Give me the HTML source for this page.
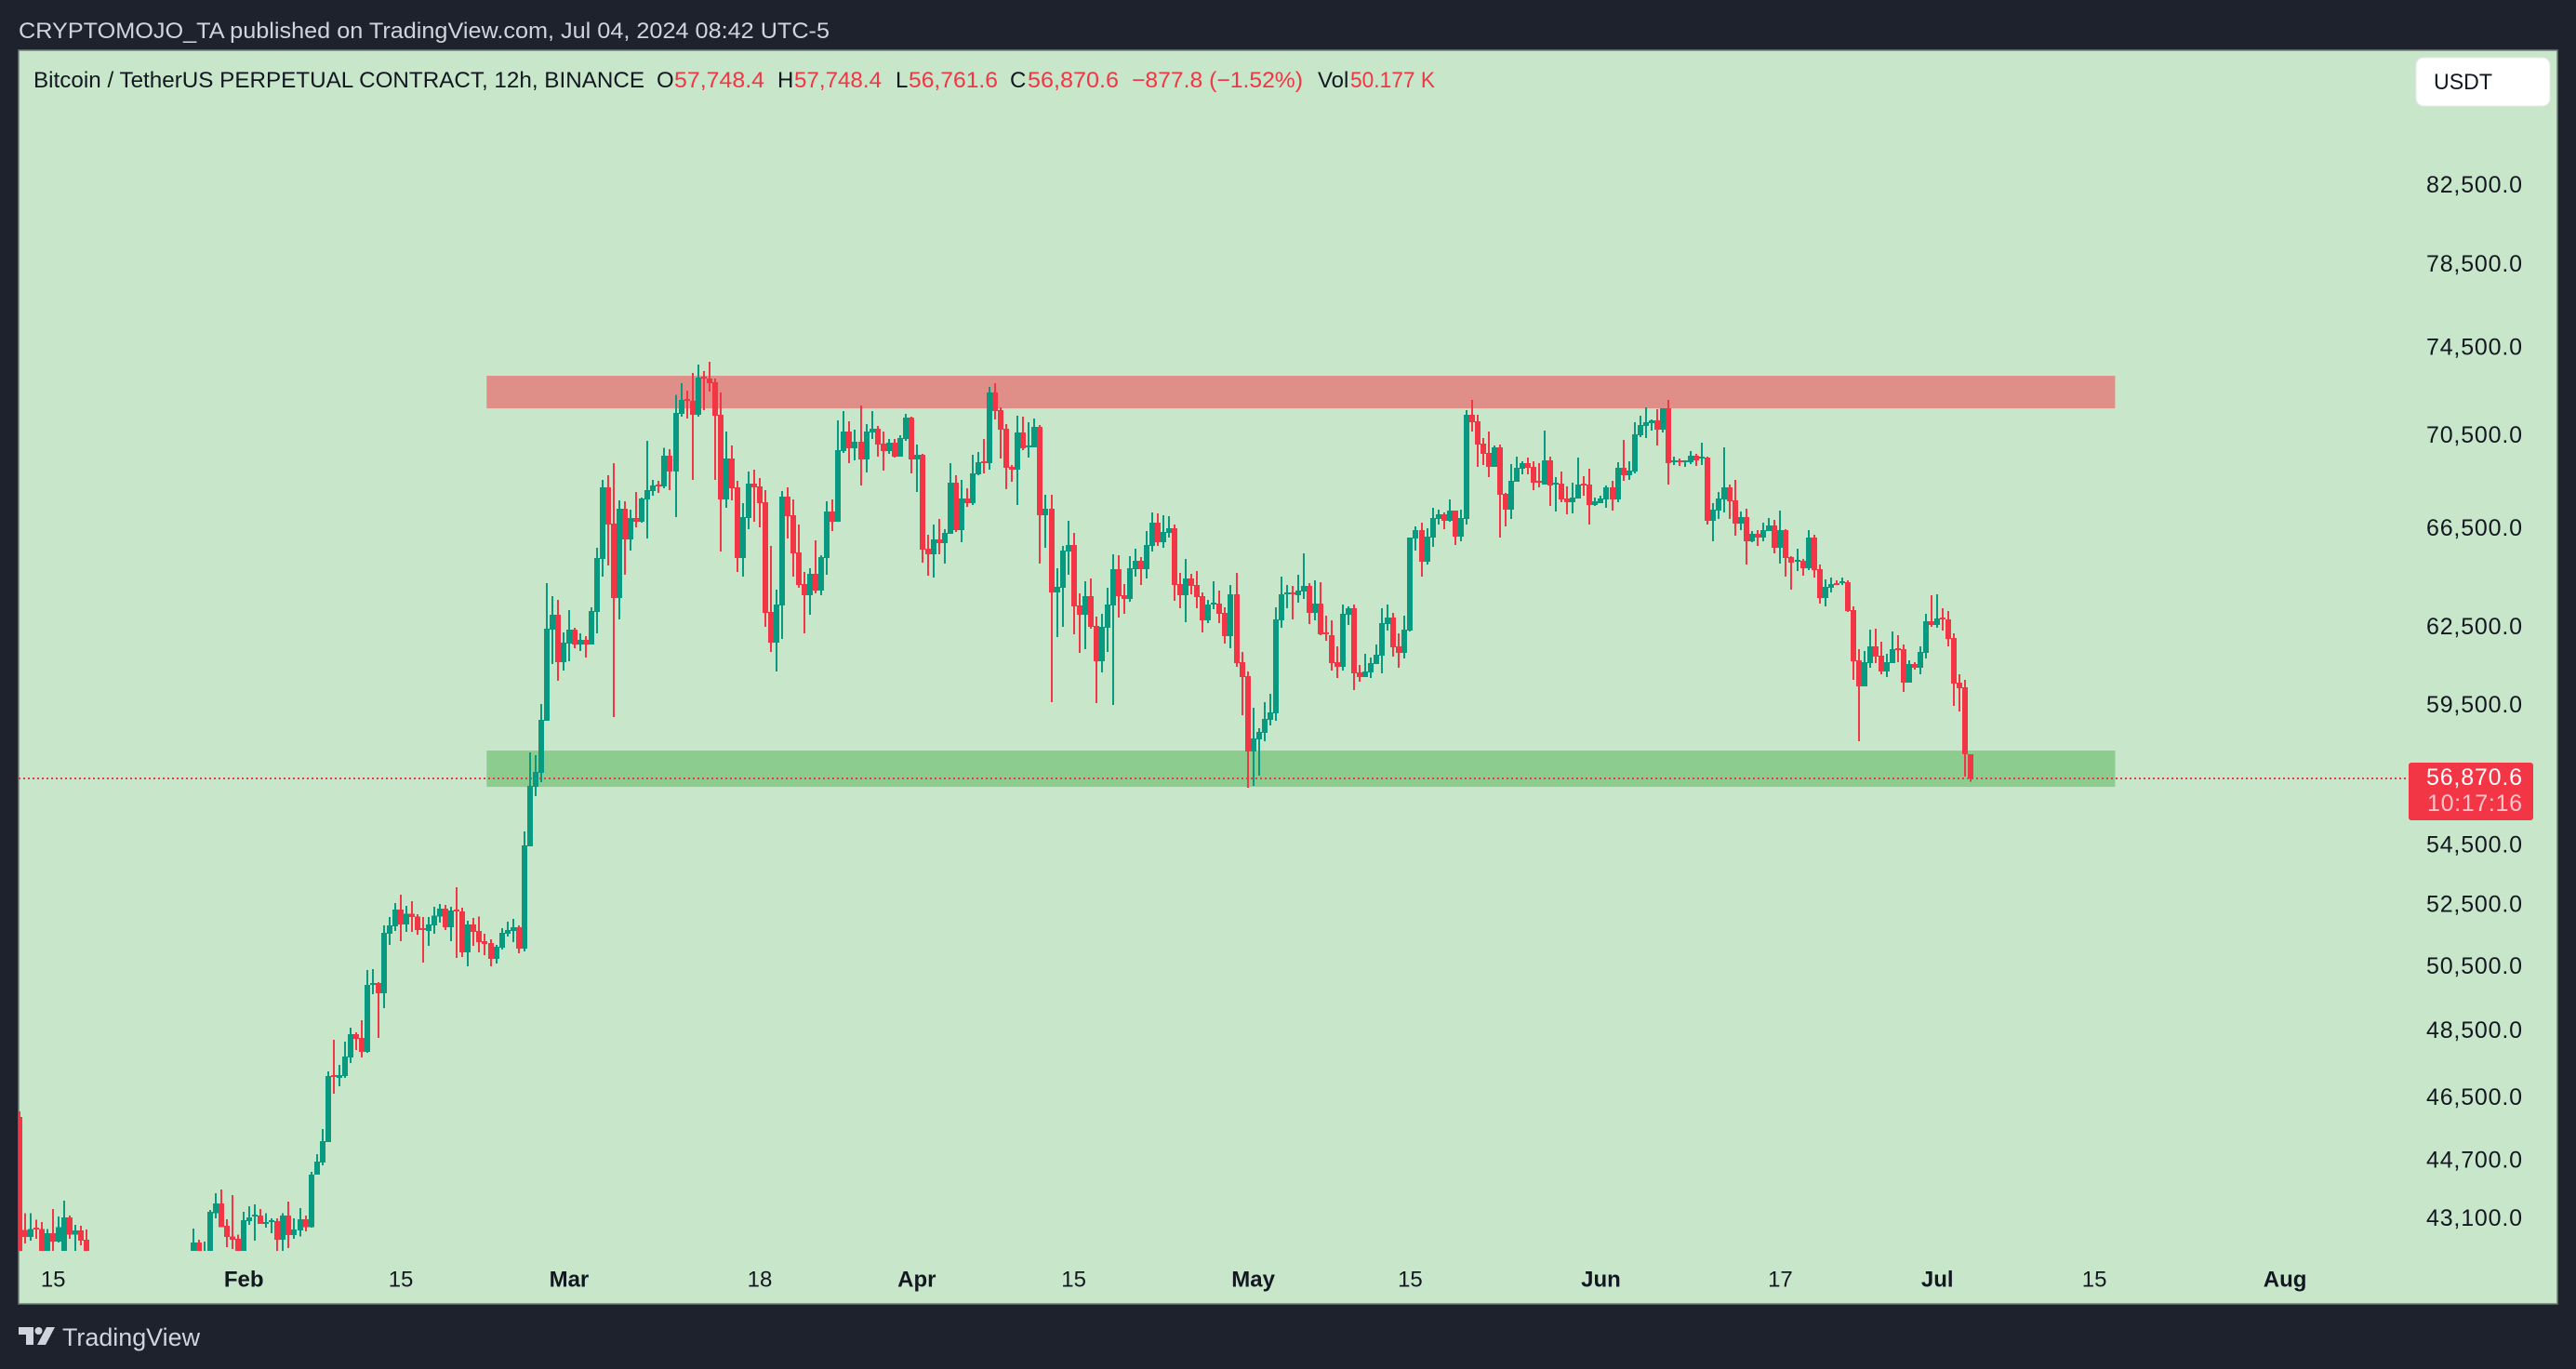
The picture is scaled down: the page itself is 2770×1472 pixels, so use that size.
<!DOCTYPE html>
<html lang="en">
<head>
<meta charset="utf-8">
<title>BTCUSDT.P 12h chart</title>
<style>
html,body{margin:0;padding:0;background:#1e222d;width:2770px;height:1472px;overflow:hidden}
svg{display:block}
text{font-family:"Liberation Sans",sans-serif}
</style>
</head>
<body>
<svg id="chart" xmlns="http://www.w3.org/2000/svg" width="2770" height="1472" viewBox="0 0 2770 1472">
  <defs>
    <clipPath id="pane-clip"><rect x="20" y="55" width="2730" height="1290"/></clipPath>
  </defs>
  <rect x="0" y="0" width="2770" height="1472" fill="#1e222d"/>
  <text x="20" y="41" font-size="24" fill="#d1d4dc" textLength="872" lengthAdjust="spacingAndGlyphs">CRYPTOMOJO_TA published on TradingView.com, Jul 04, 2024 08:42 UTC-5</text>
  <rect x="20" y="54" width="2730" height="1348" fill="#c8e6c9" stroke="#6f7d76" stroke-width="1.5"/>
  <g id="zones"></g>
  <g id="price-line-layer"></g>
  <g id="candles" clip-path="url(#pane-clip)"></g>
  <g id="y-axis"></g>
  <g id="x-axis"></g>

  <g font-size="24">
    <text x="36" y="94" fill="#131722" textLength="657" lengthAdjust="spacingAndGlyphs">Bitcoin / TetherUS PERPETUAL CONTRACT, 12h, BINANCE</text>
    <text x="706" y="94" fill="#131722">O</text>
    <text x="725" y="94" fill="#f23645" textLength="97" lengthAdjust="spacingAndGlyphs">57,748.4</text>
    <text x="836" y="94" fill="#131722">H</text>
    <text x="854" y="94" fill="#f23645" textLength="94" lengthAdjust="spacingAndGlyphs">57,748.4</text>
    <text x="963" y="94" fill="#131722">L</text>
    <text x="977" y="94" fill="#f23645" textLength="96" lengthAdjust="spacingAndGlyphs">56,761.6</text>
    <text x="1086" y="94" fill="#131722">C</text>
    <text x="1105" y="94" fill="#f23645" textLength="98" lengthAdjust="spacingAndGlyphs">56,870.6</text>
    <text x="1217" y="94" fill="#f23645" textLength="184" lengthAdjust="spacingAndGlyphs">−877.8 (−1.52%)</text>
    <text x="1417" y="94" fill="#131722">Vol</text>
    <text x="1452" y="94" fill="#f23645" textLength="91" lengthAdjust="spacingAndGlyphs">50.177 K</text>
  </g>

  <g>
    <rect x="2598" y="62" width="144" height="52" rx="8" ry="8" fill="#ffffff" stroke="#e6ebe8" stroke-width="1"/>
    <text x="2617" y="96" font-size="24" fill="#131722" textLength="63" lengthAdjust="spacingAndGlyphs">USDT</text>
  </g>

  <g>
    <g fill="#d1d4dc">
      <rect x="20" y="1427" width="16" height="8"/>
      <rect x="28" y="1427" width="8" height="19"/>
      <circle cx="41.5" cy="1431" r="4"/>
      <polygon points="50,1427 59,1427 49,1446 40,1446"/>
    </g>
    <text x="67" y="1447" font-size="27" fill="#d1d4dc" textLength="148" lengthAdjust="spacingAndGlyphs">TradingView</text>
  </g>
</svg>
<script>
const opens = [
45970,42815,42630,42880,42848,42000,42730,42505,42000,43155,
42690,42807,42555,41900,41500,41200,41000,41300,41100,40900,
41200,41000,40300,40000,39800,40100,40300,40700,41000,41800,
41500,41900,42480,41900,41900,43280,43540,42930,42650,42580,
41900,43055,43190,43206,42980,43047,43055,42555,43206,42680,
42807,43105,42900,44335,44670,45255,47200,47115,47170,47725,
48430,48315,47895,49950,50010,49685,51580,51820,52370,51880,
52240,52150,51760,51670,51850,52150,52400,51790,52370,52310,
50980,51880,51670,51340,51280,50770,51130,51580,51670,51790,
51100,54495,56570,57070,58970,62446,63032,61180,61900,62446,
61865,62047,61865,63147,65280,68290,66750,63700,67375,66090,
66985,66830,67770,68130,68410,68330,69660,68970,71510,72180,
72100,71470,73205,73120,72950,71470,67770,69530,68290,65320,
66985,68450,68330,67650,63150,61940,63405,67890,67100,65550,
64260,63810,64675,64000,65320,67255,66830,69860,70725,69985,
70270,69490,70685,70850,70180,69860,70230,69620,70390,71340,
69490,69700,65705,65470,66090,65935,66320,68490,66475,67810,
67610,68850,69410,69330,72490,71680,70850,69170,69050,70685,
70025,70025,70930,67100,67375,63920,64110,65590,65860,63405,
63030,63775,62590,61215,62520,63405,64865,63810,63665,64865,
65205,64865,65820,66790,65975,66360,66555,64260,63810,64490,
64225,63775,62810,63440,63480,63110,62190,63850,61180,60650,
57840,58285,58520,59000,59245,62810,63850,63920,63810,63960,
64185,63110,63480,62340,62230,61180,61000,63030,63295,60790,
60610,60790,61110,61430,62665,62920,61790,61540,62410,66120,
66475,65165,66170,66945,67140,66870,67300,66200,66945,71470,
71180,70180,69780,69170,70025,68010,67335,68530,69090,69330,
69170,68570,68410,69455,68410,68450,67810,67650,67810,68450,
68410,67530,67610,67770,68290,67770,69130,68810,68970,70560,
70975,71100,71220,70810,71765,69370,69455,69370,69370,69660,
69530,69580,66870,67300,67770,68290,67730,66750,67025,66015,
66320,66170,66435,66670,65745,66475,65360,65165,65205,64900,
66170,64865,63700,64110,64300,64300,64340,63220,61250,60260,
61145,61790,61430,60825,61145,61720,61685,60400,61110,60965,
61540,62775,62630,62920,62850,62120,60400,60220,57748.4];
const highs = [
46136,43280,43280,43098,43030,42848,43383,43180,43620,43206,
42957,42930,42830,42100,41800,41500,41400,41600,41400,41300,
41500,41200,40600,40400,40300,40500,40900,41200,42255,42100,
41900,42856,42555,42505,43358,43820,43922,43105,43770,42700,
43310,43460,43510,43383,43280,43130,43130,43280,43590,43130,
43410,43206,44413,44910,45622,47310,48260,47500,48200,48625,
48485,48850,50415,50445,50035,51850,52125,52580,52865,52490,
52645,52215,52125,52125,52460,52550,52520,52460,53110,52430,
52000,52090,52150,51580,51400,51220,51760,51970,52060,51850,
55005,57810,57710,59590,64300,63774,63627,62337,63217,62518,
62300,62190,63330,65745,68610,68810,69330,67730,67690,67335,
68090,67850,70310,68610,68570,70000,69950,72365,72910,72570,
73375,73765,73465,73895,73120,72490,70725,70110,68570,67610,
68970,69050,68690,68170,65820,64035,68130,68290,67770,66710,
64750,64900,66050,65435,67690,67770,71220,71640,71180,70810,
71890,71060,71640,70975,70725,70390,70390,70560,71510,71385,
70150,69740,66280,66710,66945,66515,69330,68810,68610,68250,
69700,69820,70390,72730,72910,71805,71060,69250,71430,71385,
71140,71305,71015,67970,67970,64900,65820,66870,66360,63885,
64375,64490,62960,63070,64110,65470,65435,64260,65395,65705,
65360,66435,67210,67170,67100,67060,66710,64715,65280,64675,
64790,63920,63630,64375,64000,63330,64225,64715,61575,60825,
59455,58695,59670,59980,63330,64560,64225,64185,64640,65510,
64300,64415,64340,62995,62810,61790,63440,63370,63440,61075,
61500,61360,61865,63295,63440,63110,62300,62995,66170,66630,
66790,66555,67415,67335,67210,67770,67300,67335,71680,72140,
71470,70435,70725,70110,70150,68050,69290,69620,69410,69580,
69410,69330,70765,69620,68730,68970,68330,68490,69580,68770,
69090,67850,67930,68370,68570,69370,70350,69410,71140,71430,
71805,71265,71720,71765,72140,69620,69530,69455,69860,69740,
70230,69620,67610,68090,70025,68410,68610,67255,67375,66435,
66475,66790,66985,66905,67300,66515,65395,65705,65280,66475,
66280,65050,64450,64525,64415,64525,64415,63370,61685,61610,
62445,62480,61975,61500,62375,62230,61865,61250,61180,61790,
63070,63810,63850,63295,63180,62300,60720,60510,57748.4];
const lows = [
41800,42463,42530,42580,41900,41900,41950,42480,42000,42580,
42000,42405,41800,41300,41000,40700,40600,40900,40700,40500,
40800,40000,39800,39500,39400,39700,40000,40400,40800,41200,
41100,41800,41700,41800,41800,43130,42900,42355,42305,41800,
41800,42957,42530,42980,42880,42730,42240,42255,42330,42580,
42650,42780,42880,44335,44595,45255,46650,46865,47115,47560,
47950,47725,47865,49655,48315,49225,51220,51670,51340,51640,
51640,51550,50650,51190,51580,51940,51700,51340,50800,50830,
50535,51190,50980,50890,50535,50620,51070,51490,51310,50950,
51010,54495,56240,56737,58970,61110,60470,60860,61216,61720,
61610,61360,61865,62300,64560,65015,59105,62850,64640,65630,
66595,66790,66120,67930,68050,68250,68170,67020,71385,71305,
68610,71385,71680,72530,68610,65590,67415,67730,64750,64560,
66515,66830,66595,62555,61575,60825,62085,66120,64560,64110,
62300,63030,63885,63810,64640,66435,66830,69780,69330,69455,
68370,68930,70390,69620,69010,69740,69580,69620,70310,68890,
68090,65130,64600,64525,65470,65090,66320,66400,65975,67455,
67530,68810,68890,69050,71265,69530,68210,68530,67530,69900,
69580,70025,65090,65745,59670,62155,62555,64640,62265,61540,
61685,62480,59630,60790,61575,59560,62920,63070,63555,64560,
64225,64490,65590,65820,65745,66170,63590,63295,62740,63850,
63295,62340,62700,63255,62700,61900,61720,61000,59175,56540,
56600,56970,58215,58800,58970,62520,63295,62850,63505,63665,
62665,62810,62230,62010,60860,60575,60860,62630,60120,60435,
60610,60575,61110,60755,62410,61395,60965,61325,62375,65630,
64560,65050,65780,66710,66515,66830,65860,66015,66710,70725,
69170,69250,68730,69170,66170,66630,66945,68530,68850,68850,
68170,68290,68410,67490,67255,67650,67140,67170,67810,67930,
66710,67490,67610,67415,67300,67650,68570,68610,68890,70475,
70435,70765,70110,70685,68410,69250,69210,69170,69290,69210,
69250,66710,66015,66945,67210,66945,66240,66475,65050,65975,
65820,66015,66435,65510,65090,64560,64035,64790,64600,64825,
64525,63480,63370,63920,64225,64225,63150,60510,58215,60260,
60965,61145,60720,60610,61145,61180,60050,60400,60895,60720,
61325,62555,62520,62410,61790,59525,59315,56935,56761.6];
const closes = [
42000,42630,42848,42848,42100,42730,42505,42900,43155,42690,
42807,42530,42000,41500,41200,41000,41300,41100,40900,41200,
41000,40300,40000,39800,40100,40300,40700,41000,41800,41500,
41800,42480,41900,42255,43310,43540,42900,42630,42555,41900,
43080,43155,43230,42980,43030,43080,42555,43206,42680,42830,
43105,42900,44335,44700,45280,47170,47160,47200,47750,48430,
48285,47895,49950,50010,49685,51610,51850,52370,51880,52240,
52125,51700,51700,51880,52180,52400,51790,52340,52320,50980,
51880,51640,51310,51250,50770,51160,51610,51700,51790,51100,
54525,56605,57105,59000,62480,63032,61180,61938,62446,61865,
62047,61865,63180,65320,68290,66710,63700,67375,66090,66985,
66830,67810,68170,68370,68330,69660,68970,71555,72140,72100,
71470,73160,73120,72910,71430,67770,69530,68250,65320,67025,
68450,68290,67610,63110,61940,63440,67890,67060,65510,64225,
63810,64675,64000,65360,67255,66830,69900,70725,69985,70270,
69490,70725,70850,70150,69860,70230,69620,70435,71340,69490,
69700,65670,65470,66090,65935,66360,68490,66475,67810,67610,
68890,69370,69330,72490,71640,70810,69130,69050,70685,69985,
70110,70930,67100,67375,63920,64150,65630,65860,63370,63030,
63775,62555,61215,62555,63440,64865,63775,63665,64900,65205,
64865,65860,66790,65975,66400,66555,64225,63810,64490,64185,
63740,62810,63440,63515,63070,62190,63850,61145,60610,57840,
58320,58555,59035,59280,62850,63850,63920,63850,64000,64185,
63110,63480,62265,62265,61145,61000,63070,63295,60755,60610,
60825,61145,61465,62700,62920,61755,61540,62445,66170,66475,
65165,66200,66985,67140,66870,67300,66200,66985,71470,71140,
70150,69740,69170,70025,67970,67335,68570,69130,69330,69130,
68490,68490,69455,68370,68490,67770,67650,67850,68410,68370,
67530,67690,67810,68290,67770,69130,68810,69010,70600,71015,
71140,71220,70810,71765,69330,69455,69370,69455,69660,69455,
69620,66870,67335,67810,68290,67690,66750,67025,66015,66320,
66170,66475,66670,65745,66475,65320,65130,65245,64900,66170,
64825,63700,64150,64260,64225,64375,63180,61215,60260,61180,
61790,61395,60825,61180,61685,61650,60400,61110,60965,61575,
62775,62630,62885,62850,62085,60365,60190,57740,56870.6];

const priceTicks = [82500,78500,74500,70500,66500,62500,59500,54500,52500,50500,48500,46500,44700,43100];
const timeLabels = ['15','Feb','15','Mar','18','Apr','15','May','15','Jun','17','Jul','15','Aug'];
const timeBarIndex = [6,40,68,98,132,160,188,220,248,282,314,342,370,404];
const timeLabelIsMonth = [false,true,false,true,false,true,false,true,false,true,false,true,false,true];
const resistanceZone = [73245,71760];
const supportZone = [57875,56570];
const zoneStartBar = 83.3;
const zoneEndBar = 373.7;
const lastPrice = 56870.6;
const countdown = '10:17:16';

const NS = 'http://www.w3.org/2000/svg';
const GREEN = '#089981';
const RED = '#f23645';

function xOf(i){ return 21 + 6.03 * i; }
function yOf(p){ return 837 + 1711 * Math.log(lastPrice / p); }
function fmt(p){
  const s = p.toFixed(1).split('.');
  return s[0].replace(/\B(?=(\d{3})+(?!\d))/g, ',') + '.' + s[1];
}
function mk(tag, attrs, parent){
  const el = document.createElementNS(NS, tag);
  for (const k in attrs) el.setAttribute(k, attrs[k]);
  parent.appendChild(el);
  return el;
}

const zonesG = document.getElementById('zones');
const zr = mk('rect', {x: xOf(zoneStartBar), width: xOf(zoneEndBar) - xOf(zoneStartBar), y: yOf(resistanceZone[0]), height: yOf(resistanceZone[1]) - yOf(resistanceZone[0]), fill: '#e08e88'}, zonesG);


const zs = mk('rect', {x: xOf(zoneStartBar), width: xOf(zoneEndBar) - xOf(zoneStartBar), y: yOf(supportZone[0]), height: yOf(supportZone[1]) - yOf(supportZone[0]), fill: '#8ccc8f'}, zonesG);



const lineG = document.getElementById('price-line-layer');
const pl = mk('line', {x1: 20, x2: 2590, y1: yOf(lastPrice), y2: yOf(lastPrice), stroke: RED, 'stroke-width': 2, 'stroke-dasharray': '2 3'}, lineG);



const candlesG = document.getElementById('candles');
for (let i = 0; i < opens.length; i++) {
  const col = closes[i] >= opens[i] ? GREEN : RED;
  const xc = Math.round(xOf(i));
  const yH = yOf(highs[i]), yL = yOf(lows[i]);
  const yT = yOf(Math.max(opens[i], closes[i])), yB = yOf(Math.min(opens[i], closes[i]));
  const wick = mk('rect', {x: xc - 1, y: yH, width: 2, height: Math.max(1, yL - yH), fill: col, 'shape-rendering': 'crispEdges'}, candlesG);
  
  
  const body = mk('rect', {x: xc - 3, y: yT, width: 6, height: Math.max(2, yB - yT), fill: col, 'shape-rendering': 'crispEdges'}, candlesG);
  
  
}

const yAxisG = document.getElementById('y-axis');
priceTicks.forEach(function(t){
  const tx = mk('text', {x: 2712, y: yOf(t) - 1.5, 'text-anchor': 'end', 'dominant-baseline': 'central', 'font-size': 25, fill: '#131722', textLength: 103, lengthAdjust: 'spacing'}, yAxisG);
  
  
  tx.textContent = fmt(t);
});

const tag = mk('rect', {x: 2590, y: 820, width: 134, height: 62, rx: 3, fill: RED}, yAxisG);


const tagP = mk('text', {x: 2712, y: 836, 'text-anchor': 'end', 'dominant-baseline': 'central', 'font-size': 25, fill: '#ffffff', textLength: 103, lengthAdjust: 'spacing'}, yAxisG);


tagP.textContent = fmt(lastPrice);
const tagC = mk('text', {x: 2712, y: 864, 'text-anchor': 'end', 'dominant-baseline': 'central', 'font-size': 25, fill: '#fbc5ca', textLength: 102, lengthAdjust: 'spacing'}, yAxisG);


tagC.textContent = countdown;

const xAxisG = document.getElementById('x-axis');
timeLabels.forEach(function(lab, k){
  const tx = mk('text', {x: xOf(timeBarIndex[k]), y: 1376, 'text-anchor': 'middle', 'dominant-baseline': 'central', 'font-size': 24, 'font-weight': timeLabelIsMonth[k] ? 'bold' : 'normal', fill: '#131722'}, xAxisG);
  
  
  tx.textContent = lab;
});
</script>
</body>
</html>
